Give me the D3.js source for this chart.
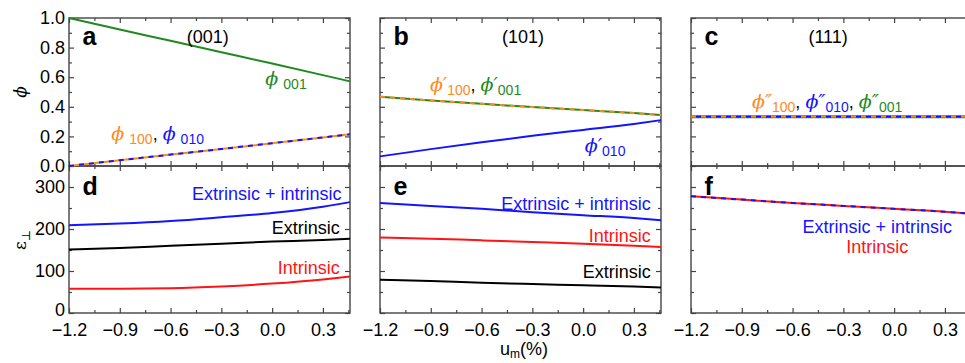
<!DOCTYPE html>
<html>
<head>
<meta charset="utf-8">
<script src="https://cdn.jsdelivr.net/npm/d3@7"></script>
<style>
  body { margin: 0; background: #fff; }
  svg { font-family: "Liberation Sans", Arial, sans-serif; }
</style>
</head>
<body>
<div class="chart"></div>
<script>
// misfit strain u_m (%) sample points
const strain = [-1.2, -0.9, -0.6, -0.3, 0.0, 0.3, 0.46];

// (001) volume fractions
const phi001_a = [1.0, 0.922, 0.846, 0.769, 0.692, 0.614, 0.572];
const phi100_a = [0.0, 0.039, 0.077, 0.115, 0.154, 0.193, 0.214];
const phi010_a = [0.0, 0.039, 0.077, 0.115, 0.154, 0.193, 0.214];

// (101) volume fractions
const phi100_b = [0.468, 0.443, 0.42, 0.398, 0.378, 0.358, 0.345];
const phi001_b = [0.468, 0.443, 0.42, 0.398, 0.378, 0.358, 0.345];
const phi010_b = [0.065, 0.114, 0.16, 0.204, 0.244, 0.284, 0.31];

// (111) volume fractions
const phi100_c = [0.333, 0.333, 0.333, 0.333, 0.333, 0.333, 0.333];
const phi010_c = [0.333, 0.333, 0.333, 0.333, 0.333, 0.333, 0.333];
const phi001_c = [0.333, 0.333, 0.333, 0.333, 0.333, 0.333, 0.333];

// dielectric permittivity
const epsTotal_d = [209, 213, 219, 228, 238, 253, 264];
const epsExt_d   = [151, 155, 160, 165, 170, 174, 177];
const epsInt_d   = [58, 58, 59, 63, 70, 80, 87];

const epsTotal_e = [262, 255, 248, 240, 233, 226, 221];
const epsInt_e   = [180, 177, 173, 169, 165, 160, 157];
const epsExt_e   = [79, 76, 72, 69, 66, 63, 61];

const epsTotal_f = [278, 270, 262, 255, 248, 241, 236];
const epsInt_f   = [278, 270, 262, 255, 248, 241, 236];

const xMajor = [-1.2, -0.9, -0.6, -0.3, 0.0, 0.3];
const xMinor = [-1.05, -0.75, -0.45, -0.15, 0.15, 0.45];
const phiMajor = [0, 0.2, 0.4, 0.6, 0.8, 1.0];
const phiMinor = [0.1, 0.3, 0.5, 0.7, 0.9];
const epsMajor = [0, 100, 200, 300];
const epsMinor = [50, 150, 250];

const GREEN = "#1f8a1f", ORANGE = "#ff8a1c", BLUE = "#1414ff", RED = "#ff1414";

const width = 965, height = 363;
const colLeft = [69, 380, 691];
const panelW = 281;
const topRow = [18, 166], botRow = [166, 313];

const svg = d3.select(".chart").append("svg")
  .attr("width", width)
  .attr("height", height);

function makeX(c) {
  return d3.scaleLinear().domain([-1.2, 0.46]).range([colLeft[c], colLeft[c] + panelW]);
}
const yPhi = d3.scaleLinear().domain([0, 1]).range([topRow[1], topRow[0]]);
const yEps = d3.scaleLinear().domain([0, 350]).range([botRow[1], botRow[0]]);

function drawFrame(x, y, yMajor, yMinor, showX, showY, yFmt, liftZero) {
  const g = svg.append("g");
  const [x0, x1] = x.range();
  const [yb, yt] = y.range();

  const ax = [
    [d3.axisBottom(x), yb, showX],
    [d3.axisTop(x), yt, false]
  ];
  ax.forEach(([a, pos, lab]) => {
    g.append("g").attr("transform", `translate(0,${pos})`)
      .call(a.tickValues(xMajor).tickSizeInner(-5).tickSizeOuter(0).tickPadding(10)
        .tickFormat(lab ? d3.format(".1f") : ""));
    g.append("g").attr("transform", `translate(0,${pos})`)
      .call(a.tickValues(xMinor).tickSizeInner(-3).tickSizeOuter(0).tickFormat(""));
  });
  const ay = [
    [d3.axisLeft(y), x0, showY],
    [d3.axisRight(y), x1, false]
  ];
  ay.forEach(([a, pos, lab]) => {
    const yg = g.append("g").attr("transform", `translate(${pos},0)`)
      .call(a.tickValues(yMajor).tickSizeInner(-5).tickSizeOuter(0).tickPadding(4)
        .tickFormat(lab ? yFmt : ""));
    if (lab && liftZero) {
      // keep the bottom "0" clear of the first x tick label
      yg.selectAll(".tick text").filter(d => d === 0).attr("dy", "0.15em");
    }
    g.append("g").attr("transform", `translate(${pos},0)`)
      .call(a.tickValues(yMinor).tickSizeInner(-3).tickSizeOuter(0).tickFormat(""));
  });
  g.selectAll(".domain").remove();
  g.selectAll(".tick line").attr("stroke", "#444").attr("stroke-width", 1.2);
  g.selectAll(".tick text").attr("font-size", 18).attr("fill", "#000")
    .attr("font-family", "Liberation Sans, Arial, sans-serif");

  g.append("rect")
    .attr("x", x0).attr("y", yt)
    .attr("width", x1 - x0).attr("height", yb - yt)
    .attr("fill", "none").attr("stroke", "#444").attr("stroke-width", 1.4);
}

function plot(x, y, values, color, dash, offset, w) {
  const line = d3.line()
    .x((d, i) => x(strain[i]))
    .y(d => y(d))
    .curve(d3.curveMonotoneX);
  svg.append("path")
    .datum(values)
    .attr("fill", "none")
    .attr("stroke", color)
    .attr("stroke-width", w || 2)
    .attr("stroke-dasharray", dash || null)
    .attr("stroke-dashoffset", offset || 0)
    .attr("d", line);
}

function label(x, y, xv, yv, parts, opts) {
  opts = opts || {};
  const t = svg.append("text")
    .attr("x", x(xv)).attr("y", y(yv))
    .attr("font-size", opts.size || 18)
    .attr("font-weight", opts.bold ? "bold" : null)
    .attr("text-anchor", opts.anchor || "start")
    .attr("fill", opts.color || "#000");
  if (typeof parts === "string") { t.text(parts); return t; }
  parts.forEach(p => {
    const s = t.append("tspan").text(p.t).attr("fill", p.c || opts.color || "#000");
    if (p.phi) s.attr("font-family", "DejaVu Serif, serif").attr("font-style", "italic").attr("font-size", 19);
    if (p.sub) s.attr("font-size", 14).attr("dy", 4);
    if (p.up) s.attr("dy", -4);
    if (p.dx) s.attr("dx", p.dx);
  });
  return t;
}

const fmtPhi = d3.format(".1f");
const fmtEps = d3.format("d");

for (let c = 0; c < 3; c++) {
  const x = makeX(c);
  drawFrame(x, yPhi, phiMajor, phiMinor, false, c === 0, fmtPhi, false);
  drawFrame(x, yEps, epsMajor, epsMinor, true, c === 0, fmtEps, true);
}

// panel a
{
  const x = makeX(0);
  plot(x, yPhi, phi001_a, GREEN);
  plot(x, yPhi, phi100_a, ORANGE);
  plot(x, yPhi, phi010_a, BLUE, "5,5");
  label(x, yPhi, -1.12, 0.82, "a", { bold: true, size: 25 });
  label(x, yPhi, -0.38, 0.83, "(001)", { anchor: "middle" });
  label(x, yPhi, -0.04, 0.55, [
    { t: "\u03D5", c: GREEN, phi: true },
    { t: "001", c: GREEN, sub: true, dx: 5 }
  ]);
  label(x, yPhi, -0.95, 0.175, [
    { t: "\u03D5", c: ORANGE, phi: true },
    { t: "100", c: ORANGE, sub: true, dx: 5 },
    { t: ", ", c: "#000", up: true },
    { t: "\u03D5", c: BLUE, phi: true },
    { t: "010", c: BLUE, sub: true, dx: 5 }
  ]);
}

// panel b
{
  const x = makeX(1);
  plot(x, yPhi, phi010_b, BLUE);
  plot(x, yPhi, phi001_b, GREEN);
  plot(x, yPhi, phi100_b, ORANGE, "5,5");
  label(x, yPhi, -1.12, 0.82, "b", { bold: true, size: 25 });
  label(x, yPhi, -0.355, 0.83, "(101)", { anchor: "middle" });
  label(x, yPhi, -0.905, 0.51, [
    { t: "\u03D5\u2032", c: ORANGE, phi: true },
    { t: "100", c: ORANGE, sub: true },
    { t: ", ", c: "#000", up: true },
    { t: "\u03D5\u2032", c: GREEN, phi: true },
    { t: "001", c: GREEN, sub: true }
  ]);
  label(x, yPhi, 0.01, 0.095, [
    { t: "\u03D5\u2032", c: BLUE, phi: true },
    { t: "010", c: BLUE, sub: true }
  ]);
}

// panel c
{
  const x = makeX(2);
  plot(x, yPhi, phi001_c, GREEN, null, 0, 3);
  plot(x, yPhi, phi100_c, ORANGE, "5,5", 0, 1.8);
  plot(x, yPhi, phi010_c, BLUE, "5,5", 5, 1.8);
  label(x, yPhi, -1.12, 0.82, "c", { bold: true, size: 25 });
  label(x, yPhi, -0.39, 0.83, "(111)", { anchor: "middle" });
  label(x, yPhi, -0.84, 0.39, [
    { t: "\u03D5\u2033", c: ORANGE, phi: true },
    { t: "100", c: ORANGE, sub: true },
    { t: ", ", c: "#000", up: true },
    { t: "\u03D5\u2033", c: BLUE, phi: true },
    { t: "010", c: BLUE, sub: true },
    { t: ", ", c: "#000", up: true },
    { t: "\u03D5\u2033", c: GREEN, phi: true },
    { t: "001", c: GREEN, sub: true }
  ]);
}

// panel d
{
  const x = makeX(0);
  plot(x, yEps, epsTotal_d, BLUE);
  plot(x, yEps, epsExt_d, "#000");
  plot(x, yEps, epsInt_d, RED);
  label(x, yEps, -1.12, 281, "d", { bold: true, size: 25 });
  label(x, yEps, 0.41, 269, "Extrinsic + intrinsic", { anchor: "end", color: BLUE });
  label(x, yEps, 0.40, 188, "Extrinsic", { anchor: "end", color: "#000" });
  label(x, yEps, 0.40, 93, "Intrinsic", { anchor: "end", color: RED });
}

// panel e
{
  const x = makeX(1);
  plot(x, yEps, epsTotal_e, BLUE);
  plot(x, yEps, epsInt_e, RED);
  plot(x, yEps, epsExt_e, "#000");
  label(x, yEps, -1.12, 281, "e", { bold: true, size: 25 });
  label(x, yEps, 0.40, 245, "Extrinsic + intrinsic", { anchor: "end", color: BLUE });
  label(x, yEps, 0.40, 169, "Intrinsic", { anchor: "end", color: RED });
  label(x, yEps, 0.40, 83, "Extrinsic", { anchor: "end", color: "#000" });
}

// panel f
{
  const x = makeX(2);
  plot(x, yEps, epsInt_f, RED);
  plot(x, yEps, epsTotal_f, BLUE, "5,5");
  label(x, yEps, -1.12, 281, "f", { bold: true, size: 25 });
  label(x, yEps, -0.1, 190, "Extrinsic + intrinsic", { anchor: "middle", color: BLUE });
  label(x, yEps, -0.1, 143, "Intrinsic", { anchor: "middle", color: RED });
}

// axis titles
svg.append("text")
  .attr("transform", "translate(26,92) rotate(-90)")
  .attr("text-anchor", "middle")
  .attr("font-family", "DejaVu Serif, serif")
  .attr("font-style", "italic")
  .attr("font-size", 17)
  .text("\u03D5");

const epsTitle = svg.append("text")
  .attr("transform", "translate(26,240) rotate(-90)")
  .attr("text-anchor", "middle")
  .attr("font-family", "DejaVu Serif, serif")
  .attr("font-size", 17);
epsTitle.append("tspan").text("\u03B5");
epsTitle.append("tspan").text("\u22A5").attr("font-size", 12).attr("dy", 4);

const xTitle = svg.append("text")
  .attr("x", makeX(1)(-0.35)).attr("y", 355)
  .attr("text-anchor", "middle")
  .attr("font-size", 18);
xTitle.append("tspan").text("u");
xTitle.append("tspan").text("m").attr("font-size", 12).attr("dy", 3);
xTitle.append("tspan").text("(%)").attr("dy", -3);
</script>
</body>
</html>
